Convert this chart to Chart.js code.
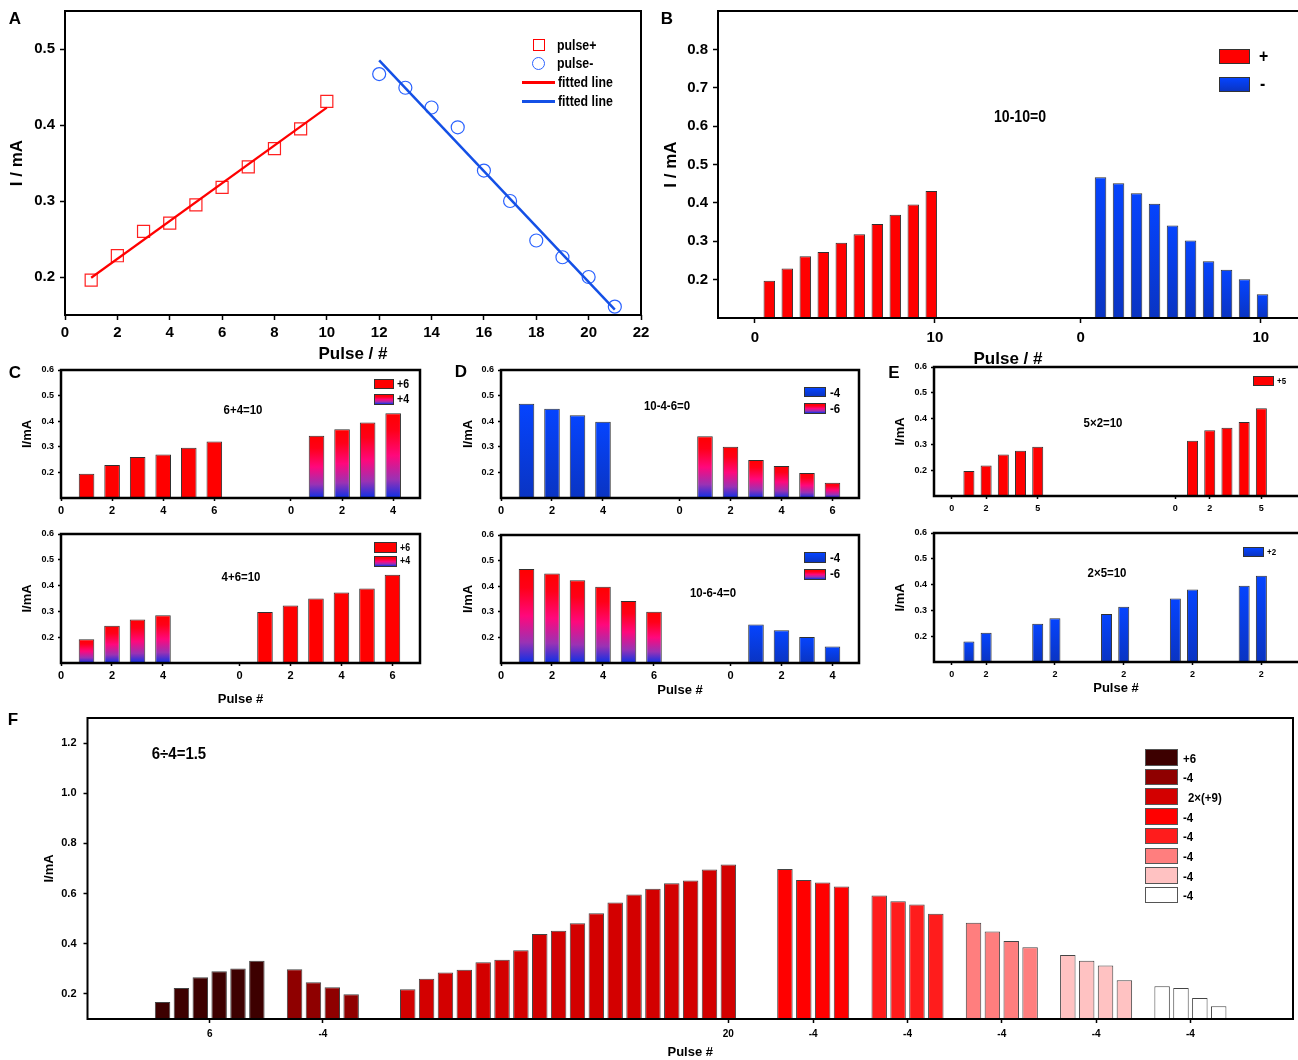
<!DOCTYPE html>
<html>
<head>
<meta charset="utf-8">
<title>Pulse current panels</title>
<script src="https://cdn.jsdelivr.net/npm/chart.js@4.4.1/dist/chart.umd.min.js"></script>
<style>
  html, body { margin: 0; padding: 0; background: #fff; }
  body {
    position: relative; width: 1298px; height: 1060px; overflow: hidden;
    font-family: 'Liberation Sans', Arial, sans-serif;
  }
  canvas { position: absolute; left: 0; top: 0; }
  .tx { position: absolute; font-weight: bold; white-space: nowrap; line-height: 1; color: #000; }
  .c { transform: translate(-50%, -50%) scaleX(0.88); }
  .l { transform: translate(0, -50%) scaleX(0.88); transform-origin: 0 50%; }
  .tag { font-size: 17px; }
  .tag.c { transform: translate(-50%, -50%); }
  .sw { position: absolute; box-sizing: border-box; border: 1px solid #333; }
  .red { background: #ff0000; }
  .blue { background: linear-gradient(#0544ff, #0a34c2); }
  .mix { background: linear-gradient(#ff0000, #ff0018 20%, #ff087c 50%, #9a32b4 78%, #0c30e6); }
</style>
</head>
<body>
<canvas id="chartA" width="1298" height="1060"></canvas>
<canvas id="chartB" width="1298" height="1060"></canvas>
<canvas id="chartC1" width="1298" height="1060"></canvas>
<canvas id="chartC2" width="1298" height="1060"></canvas>
<canvas id="chartD1" width="1298" height="1060"></canvas>
<canvas id="chartD2" width="1298" height="1060"></canvas>
<canvas id="chartE1" width="1298" height="1060"></canvas>
<canvas id="chartE2" width="1298" height="1060"></canvas>
<canvas id="chartF" width="1298" height="1060"></canvas>

<!-- A -->
<div class="tx tag c" style="left:15px;top:18px">A</div>
<div style="position:absolute;left:533px;top:39px;width:12px;height:12px;border:1.3px solid #ff0000;box-sizing:border-box"></div>
<div class="tx l" style="left:557px;top:45px;font-size:14px">pulse+</div>
<div style="position:absolute;left:532px;top:57px;width:13px;height:13px;border:1.3px solid #2a62ff;border-radius:50%;box-sizing:border-box"></div>
<div class="tx l" style="left:557px;top:63px;font-size:14px">pulse-</div>
<div style="position:absolute;left:522px;top:81px;width:33px;height:2.5px;background:#ff0000"></div>
<div class="tx l" style="left:558px;top:82px;font-size:14px">fitted line</div>
<div style="position:absolute;left:522px;top:100px;width:33px;height:2.5px;background:#1450e6"></div>
<div class="tx l" style="left:558px;top:101px;font-size:14px">fitted line</div>

<!-- B -->
<div class="tx tag c" style="left:667px;top:18px">B</div>
<div class="sw red" style="left:1219px;top:49px;width:31px;height:15px"></div>
<div class="tx l" style="left:1259px;top:56px;font-size:18px">+</div>
<div class="sw blue" style="left:1219px;top:77px;width:31px;height:15px"></div>
<div class="tx l" style="left:1260px;top:84px;font-size:18px">-</div>
<div class="tx c" style="left:1020px;top:117px;font-size:16px">10-10=0</div>

<!-- C -->
<div class="tx tag c" style="left:15px;top:372px">C</div>
<div class="sw red" style="left:374px;top:379px;width:20px;height:10px"></div>
<div class="tx l" style="left:397px;top:384px;font-size:12px">+6</div>
<div class="sw mix" style="left:374px;top:394px;width:20px;height:11px"></div>
<div class="tx l" style="left:397px;top:399px;font-size:12px">+4</div>
<div class="tx c" style="left:243px;top:409px;font-size:13px">6+4=10</div>
<div class="sw red" style="left:374px;top:542px;width:23px;height:11px"></div>
<div class="tx l" style="left:400px;top:548px;font-size:10px">+6</div>
<div class="sw mix" style="left:374px;top:556px;width:23px;height:11px"></div>
<div class="tx l" style="left:400px;top:561px;font-size:10px">+4</div>
<div class="tx c" style="left:241px;top:576px;font-size:13px">4+6=10</div>

<!-- D -->
<div class="tx tag c" style="left:461px;top:371px">D</div>
<div class="sw blue" style="left:804px;top:387px;width:22px;height:10px"></div>
<div class="tx l" style="left:830px;top:392px;font-size:13px">-4</div>
<div class="sw mix" style="left:804px;top:403px;width:22px;height:11px"></div>
<div class="tx l" style="left:830px;top:408px;font-size:13px">-6</div>
<div class="tx c" style="left:667px;top:405px;font-size:13px">10-4-6=0</div>
<div class="sw blue" style="left:804px;top:552px;width:22px;height:11px"></div>
<div class="tx l" style="left:830px;top:557px;font-size:13px">-4</div>
<div class="sw mix" style="left:804px;top:569px;width:22px;height:11px"></div>
<div class="tx l" style="left:830px;top:573px;font-size:13px">-6</div>
<div class="tx c" style="left:713px;top:592px;font-size:13px">10-6-4=0</div>

<!-- E -->
<div class="tx tag c" style="left:894px;top:372px">E</div>
<div class="sw red" style="left:1253px;top:376px;width:21px;height:10px"></div>
<div class="tx l" style="left:1277px;top:381px;font-size:9px">+5</div>
<div class="tx c" style="left:1103px;top:422px;font-size:13px">5×2=10</div>
<div class="sw blue" style="left:1243px;top:547px;width:21px;height:10px"></div>
<div class="tx l" style="left:1267px;top:552px;font-size:9px">+2</div>
<div class="tx c" style="left:1107px;top:572px;font-size:13px">2×5=10</div>

<!-- F -->
<div class="tx tag c" style="left:13px;top:719px">F</div>
<div class="tx c" style="left:179px;top:753px;font-size:17px">6÷4=1.5</div>
<div id="legendF"></div>

<script>
// ---- données ----
// A : courant par impulsion
const aPulsePlus = [1, 2, 3, 4, 5, 6, 7, 8, 9, 10];
const aCurrentPlus = [0.196, 0.228, 0.260, 0.271, 0.295, 0.318, 0.345, 0.369, 0.395, 0.431];
const aPulseMinus = [12, 13, 14, 15, 16, 17, 18, 19, 20, 21];
const aCurrentMinus = [0.467, 0.449, 0.423, 0.397, 0.340, 0.300, 0.248, 0.226, 0.200, 0.161];
const aFitPlusX = [1, 10];
const aFitPlusY = [0.199, 0.423];
const aFitMinusX = [12, 21];
const aFitMinusY = [0.485, 0.157];
const aTicksX = [0, 2, 4, 6, 8, 10, 12, 14, 16, 18, 20, 22];
const aTicksY = [0.2, 0.3, 0.4, 0.5];

// B : 10-10=0
const bPositive = [0.197, 0.229, 0.261, 0.272, 0.296, 0.318, 0.345, 0.369, 0.396, 0.431];
const bNegative = [0.467, 0.451, 0.425, 0.398, 0.341, 0.302, 0.248, 0.226, 0.201, 0.162];
const bTicksX = [0, 10, 18.1, 28.1];
const bTickLabels = ['0', '10', '0', '10'];
const bTicksY = [0.2, 0.3, 0.4, 0.5, 0.6, 0.7, 0.8];

// C : 6+4 et 4+6
const c1Six = [0.195, 0.229, 0.260, 0.270, 0.296, 0.321];
const c1Four = [0.343, 0.369, 0.395, 0.431];
const c2Four = [0.192, 0.244, 0.269, 0.285];
const c2Six = [0.298, 0.323, 0.350, 0.373, 0.389, 0.442];
const c1TicksX = [0, 2, 4, 6, 9, 11, 13];
const c1TickLabels = ['0', '2', '4', '6', '0', '2', '4'];
const c2TicksX = [0, 2, 4, 7, 9, 11, 13];
const c2TickLabels = ['0', '2', '4', '0', '2', '4', '6'];

// D : 10-4-6 et 10-6-4
const d1Four = [0.468, 0.449, 0.423, 0.398];
const d1Six = [0.341, 0.300, 0.248, 0.225, 0.198, 0.160];
const d2Six = [0.467, 0.450, 0.423, 0.398, 0.342, 0.300];
const d2Four = [0.250, 0.228, 0.202, 0.164];
const d1TicksX = [0, 2, 4, 7, 9, 11, 13];
const d1TickLabels = ['0', '2', '4', '0', '2', '4', '6'];
const d2TicksX = [0, 2, 4, 6, 9, 11, 13];
const d2TickLabels = ['0', '2', '4', '6', '0', '2', '4'];

// E : 5x2 et 2x5
const e1First = [0.197, 0.218, 0.261, 0.275, 0.291];
const e1Second = [0.314, 0.355, 0.365, 0.387, 0.440];
const e2Pairs = [[0.179, 0.213], [0.248, 0.270], [0.286, 0.314], [0.346, 0.381], [0.396, 0.434]];
const e1TicksX = [0, 2, 5, 13, 15, 18];
const e1TickLabels = ['0', '2', '5', '0', '2', '5'];
const e2TicksX = [0, 2, 6, 10, 14, 18];
const e2TickLabels = ['0', '2', '2', '2', '2', '2'];
const smallTicksY = [0.2, 0.3, 0.4, 0.5, 0.6];

// F : 6÷4=1.5
const fPlus6 = [0.168, 0.224, 0.266, 0.290, 0.301, 0.332];
const fMinus4a = [0.298, 0.247, 0.227, 0.199];
const fPlus9x2 = [0.219, 0.260, 0.285, 0.296, 0.326, 0.336, 0.374, 0.439, 0.452, 0.482,
                  0.522, 0.564, 0.596, 0.619, 0.641, 0.652, 0.696, 0.716];
const fMinus4b = [0.698, 0.654, 0.644, 0.628];
const fMinus4c = [0.592, 0.569, 0.556, 0.520];
const fMinus4d = [0.484, 0.449, 0.411, 0.386];
const fMinus4e = [0.355, 0.332, 0.313, 0.254];
const fMinus4f = [0.231, 0.224, 0.184, 0.151];
const fLegendLabels = ['+6', '-4', '2×(+9)', '-4', '-4', '-4', '-4', '-4'];
const fTicksX = [3.5, 9.5, 31, 35.5, 40.5, 45.5, 50.5, 55.5];
const fTickLabels = ['6', '-4', '20', '-4', '-4', '-4', '-4', '-4'];
const fTicksY = [0.2, 0.4, 0.6, 0.8, 1.0, 1.2];

// ---- styles ----
const PAGE_W = 1298, PAGE_H = 1060;
const RED = '#ff0000';
const fShades = ['#3d0000', '#8f0000', '#d30000', '#ff0000', '#ff1c1c', '#ff7e7e', '#ffc2c2', '#ffffff'];
const MIX_STOPS = [[0, '#ff0000'], [0.2, '#ff0018'], [0.5, '#ff087c'], [0.78, '#9a32b4'], [1, '#0c30e6']];
const BLUE_STOPS = [[0, '#0544ff'], [1, '#0a34c2']];

Chart.defaults.font.family = "'Liberation Sans', Arial, sans-serif";
Chart.defaults.font.weight = 'bold';
Chart.defaults.color = '#000';

// dégradé vertical calculé pour chaque barre (haut -> axe)
const fade = (stops) => (ctx) => {
  const chart = ctx.chart;
  const area = chart.chartArea;
  if (!area || !ctx.raw) return stops[0][1];
  const top = chart.scales.y.getPixelForValue(ctx.raw.y);
  const g = chart.ctx.createLinearGradient(0, top, 0, area.bottom);
  stops.forEach(([p, c]) => g.addColorStop(p, c));
  return g;
};
const MIX = fade(MIX_STOPS);
const BLUE = fade(BLUE_STOPS);

const bars = (vals, offset, fill) => ({
  data: vals.map((v, i) => ({ x: offset + i + 1, y: v })),
  backgroundColor: fill,
  borderColor: '#303030',
  borderWidth: 1,
  clip: 0
});

// cadre noir autour de la zone de tracé
const framePlugin = {
  id: 'frame',
  afterDatasetsDraw(chart, args, opts) {
    const { ctx, chartArea: a } = chart;
    ctx.save();
    ctx.strokeStyle = '#000';
    ctx.lineWidth = opts.width || 2;
    ctx.beginPath();
    if (opts.open) {
      ctx.moveTo(PAGE_W + 2, a.top);
      ctx.lineTo(a.left, a.top);
      ctx.lineTo(a.left, a.bottom);
      ctx.lineTo(PAGE_W + 2, a.bottom);
    } else {
      ctx.rect(a.left, a.top, a.right - a.left, a.bottom - a.top);
    }
    ctx.stroke();
    ctx.restore();
  }
};

// box : zone de tracé en coordonnées de page, titres placés par leur centre
function buildChart(id, box, o, datasets) {
  const yW = box.l - box.yTitleX + o.titleSize * 0.6;
  const xH = box.xTitleY ? box.xTitleY - box.b + o.titleSize * 0.6 : 24;
  const gridOpts = { offset: false, drawOnChartArea: false, tickLength: o.tick, tickWidth: 1.5, tickColor: '#000' };
  return new Chart(document.getElementById(id), {
    type: o.type || 'bar',
    data: { datasets },
    options: {
      responsive: false,
      animation: false,
      events: [],
      layout: {
        autoPadding: false,
        padding: { left: box.l - yW, top: box.t, right: PAGE_W - box.r, bottom: PAGE_H - box.b - xH }
      },
      datasets: { bar: { grouped: false, categoryPercentage: 1, barPercentage: o.barFrac || 0.6 } },
      plugins: {
        legend: { display: false },
        tooltip: { enabled: false },
        frame: { width: o.frame || 2, open: !!box.open }
      },
      scales: {
        x: {
          type: 'linear', min: o.xMin, max: o.xMax, offset: false,
          afterBuildTicks: s => { s.ticks = o.xTicks.map(v => ({ value: v })); },
          afterFit: s => { s.height = xH; s.paddingLeft = 0; s.paddingRight = 0; },
          ticks: { autoSkip: false, maxRotation: 0, minRotation: 0, font: { size: o.xFont }, padding: o.xPad,
                   callback: (v, i) => o.xLabels[i] },
          grid: gridOpts,
          border: { display: false },
          title: { display: !!box.xTitleY, text: o.xTitle || '', font: { size: o.titleSize }, padding: 0 }
        },
        y: {
          type: 'linear', min: o.yMin, max: o.yMax, offset: false, beginAtZero: false,
          afterBuildTicks: s => { s.ticks = o.yTicks.map(v => ({ value: v })); },
          afterFit: s => { s.width = yW; s.paddingTop = 0; s.paddingBottom = 0; },
          ticks: { autoSkip: false, font: { size: o.yFont }, padding: o.yPad, callback: v => v.toFixed(1) },
          grid: gridOpts,
          border: { display: false },
          title: { display: true, text: o.yTitle, font: { size: o.titleSize }, padding: 0 }
        }
      }
    },
    plugins: [framePlugin]
  });
}

// ---- A ----
buildChart('chartA', { l: 65, t: 11, r: 641, b: 315, yTitleX: 17, xTitleY: 354 }, {
  type: 'scatter', xMin: 0, xMax: 22, xTicks: aTicksX, xLabels: aTicksX.map(String),
  yMin: 0.15, yMax: 0.55, yTicks: aTicksY, xFont: 15, yFont: 15, xPad: 4, yPad: 5, tick: 5,
  titleSize: 17, xTitle: 'Pulse / #', yTitle: 'I / mA'
}, [
  { data: aFitPlusX.map((x, i) => ({ x, y: aFitPlusY[i] })), showLine: true, pointRadius: 0,
    borderColor: '#ff0000', borderWidth: 2.2 },
  { data: aFitMinusX.map((x, i) => ({ x, y: aFitMinusY[i] })), showLine: true, pointRadius: 0,
    borderColor: '#1450e6', borderWidth: 2.5 },
  { data: aPulsePlus.map((x, i) => ({ x, y: aCurrentPlus[i] })), pointStyle: 'rect', pointRadius: 8.5,
    borderColor: '#ff2020', borderWidth: 1.2, backgroundColor: 'rgba(0,0,0,0)' },
  { data: aPulseMinus.map((x, i) => ({ x, y: aCurrentMinus[i] })), pointStyle: 'circle', pointRadius: 6.5,
    borderColor: '#2a62ff', borderWidth: 1.2, backgroundColor: 'rgba(0,0,0,0)' }
]);

// ---- B ----
buildChart('chartB', { l: 718, t: 11, r: 1298, b: 318, yTitleX: 671, xTitleY: 359, open: true }, {
  xMin: -2.05, xMax: 30.17, xTicks: bTicksX, xLabels: bTickLabels,
  yMin: 0.1, yMax: 0.9, yTicks: bTicksY, xFont: 15, yFont: 15, xPad: 6, yPad: 5, tick: 5,
  titleSize: 17, xTitle: 'Pulse / #', yTitle: 'I / mA', barFrac: 0.64
}, [bars(bPositive, -0.2, RED), bars(bNegative, 18.2, BLUE)]);

// ---- C ----
const smallOpts = { yMin: 0.1, yMax: 0.6, yTicks: smallTicksY, xFont: 11, yFont: 9, xPad: 3, yPad: 4, tick: 3,
                    titleSize: 13, xTitle: 'Pulse #', yTitle: 'I/mA', barFrac: 0.61, frame: 2.5 };
buildChart('chartC1', { l: 61, t: 370, r: 420, b: 498, yTitleX: 27 },
  Object.assign({}, smallOpts, { xMin: 0, xMax: 14.05, xTicks: c1TicksX, xLabels: c1TickLabels }),
  [bars(c1Six, 0, RED), bars(c1Four, 9, MIX)]);
buildChart('chartC2', { l: 61, t: 534, r: 420, b: 663, yTitleX: 27, xTitleY: 699 },
  Object.assign({}, smallOpts, { xMin: 0, xMax: 14.08, xTicks: c2TicksX, xLabels: c2TickLabels }),
  [bars(c2Four, 0, MIX), bars(c2Six, 7, RED)]);

// ---- D ----
buildChart('chartD1', { l: 501, t: 370, r: 859, b: 498, yTitleX: 468 },
  Object.assign({}, smallOpts, { xMin: 0, xMax: 14.04, xTicks: d1TicksX, xLabels: d1TickLabels }),
  [bars(d1Four, 0, BLUE), bars(d1Six, 7, MIX)]);
buildChart('chartD2', { l: 501, t: 535, r: 859, b: 663, yTitleX: 468, xTitleY: 690 },
  Object.assign({}, smallOpts, { xMin: 0, xMax: 14.04, xTicks: d2TicksX, xLabels: d2TickLabels }),
  [bars(d2Six, 0, MIX), bars(d2Four, 9, BLUE)]);

// ---- E ----
const eOpts = Object.assign({}, smallOpts, { xFont: 9, xPad: 4, barFrac: 0.64, xMin: -1.03, xMax: 20.13 });
buildChart('chartE1', { l: 934, t: 367, r: 1298, b: 496, yTitleX: 900, open: true },
  Object.assign({}, eOpts, { xTicks: e1TicksX, xLabels: e1TickLabels }),
  [bars(e1First, 0, RED), bars(e1Second, 13, RED)]);
buildChart('chartE2', { l: 934, t: 533, r: 1298, b: 662, yTitleX: 900, xTitleY: 688, open: true },
  Object.assign({}, eOpts, { xTicks: e2TicksX, xLabels: e2TickLabels }),
  e2Pairs.map((pair, k) => bars(pair, k * 4, BLUE)));

// ---- F ----
const fGroups = [fPlus6, fMinus4a, fPlus9x2, fMinus4b, fMinus4c, fMinus4d, fMinus4e, fMinus4f];
const fOffsets = [0, 7, 13, 33, 38, 43, 48, 53];
buildChart('chartF', { l: 87.5, t: 718, r: 1293, b: 1019, yTitleX: 49, xTitleY: 1052 }, {
  xMin: -2.98, xMax: 60.94, xTicks: fTicksX, xLabels: fTickLabels,
  yMin: 0.1, yMax: 1.3, yTicks: fTicksY, xFont: 10, yFont: 11, xPad: 5, yPad: 7, tick: 4,
  titleSize: 13, xTitle: 'Pulse #', yTitle: 'I/mA', barFrac: 0.82
}, fGroups.map((g, k) => Object.assign(bars(g, fOffsets[k], fShades[k]), { borderColor: '#444' })));

// légende F
const legendF = document.getElementById('legendF');
fLegendLabels.forEach((label, i) => {
  const top = 749 + i * 19.7;
  const sw = document.createElement('div');
  sw.className = 'sw';
  sw.style.cssText = `left:1145px;top:${top}px;width:33px;height:16.5px;background:${fShades[i]};border-color:#555`;
  legendF.appendChild(sw);
  const tx = document.createElement('div');
  tx.className = 'tx l';
  tx.textContent = label;
  tx.style.cssText = `left:${label.length > 2 ? 1188 : 1183}px;top:${top + 8.5}px;font-size:13px`;
  legendF.appendChild(tx);
});
</script>
</body>
</html>
